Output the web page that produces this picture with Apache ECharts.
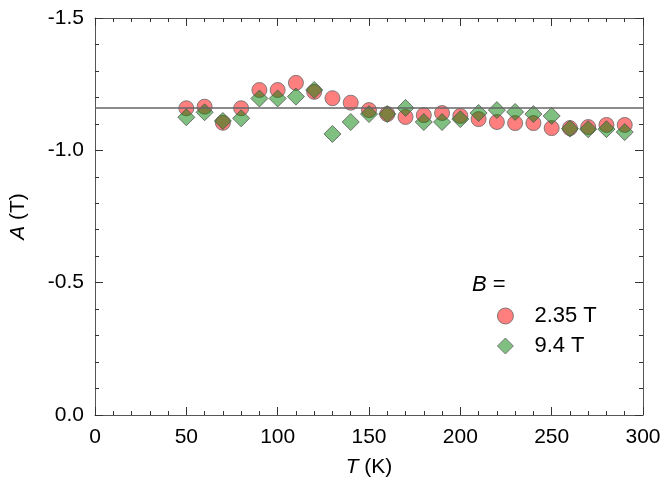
<!DOCTYPE html>
<html>
<head>
<meta charset="utf-8">
<script src="https://cdn.jsdelivr.net/npm/echarts@6/dist/echarts.min.js"></script>
<style>
  html, body { margin: 0; padding: 0; background: #fff; }
  #chart { width: 667px; height: 485px; }
</style>
</head>
<body>
<div id="chart"></div>
<script>
// temperatures (K)
const temps = [50, 60, 70, 80, 90, 100, 110, 120, 130, 140, 150, 160, 170, 180, 190, 200, 210, 220, 230, 240, 250, 260, 270, 280, 290];
// A (T) at B = 2.35 T
const a235 = [-1.159, -1.165, -1.104, -1.159, -1.228, -1.228, -1.255, -1.221, -1.197, -1.180, -1.152, -1.137, -1.126, -1.133, -1.141, -1.130, -1.118, -1.107, -1.103, -1.103, -1.084, -1.084, -1.088, -1.096, -1.096];
// A (T) at B = 9.4 T
const a94 = [-1.125, -1.144, -1.111, -1.121, -1.196, -1.196, -1.203, -1.228, -1.062, -1.107, -1.137, -1.137, -1.160, -1.107, -1.107, -1.118, -1.141, -1.152, -1.145, -1.137, -1.130, -1.082, -1.080, -1.080, -1.069];
const refLine = -1.157;

const font = "Liberation Sans, Arial, sans-serif";
const axisColor = "#555";

const chart = echarts.init(document.getElementById("chart"));

function tick() {
  return { show: true, inside: true, length: 8, lineStyle: { color: "#333" } };
}
function minor() {
  return { show: true, splitNumber: 5, length: 4, lineStyle: { color: "#333" } };
}
function line() {
  return { show: true, onZero: false, lineStyle: { color: axisColor, width: 1 } };
}

chart.setOption({
  animation: false,
  textStyle: { fontFamily: font },
  grid: { left: 94, right: 24, top: 18, bottom: 70 },
  legend: {
    orient: "vertical",
    left: 492,
    top: 300,
    itemGap: 8,
    itemWidth: 16,
    itemHeight: 16,
    itemStyle: { borderWidth: 0.8, borderColor: "#666" },
    textStyle: { fontSize: 22, color: "#000", fontFamily: font, padding: [0, 0, 0, 16] },
    data: ["2.35 T", "9.4 T"]
  },
  graphic: [{
    type: "text",
    left: 472,
    top: 274,
    style: {
      text: "{i|B} =",
      rich: { i: { fontStyle: "italic", fontSize: 22, fontFamily: font } },
      fontSize: 22,
      fontFamily: font,
      fill: "#000"
    }
  }],
  xAxis: [{
    type: "value",
    position: "bottom",
    min: 0, max: 300, interval: 50,
    name: "{i|T} (K)",
    nameLocation: "middle",
    nameGap: 42,
    nameTextStyle: { fontSize: 21, color: "#000", rich: { i: { fontStyle: "italic", fontSize: 21 } } },
    axisLine: line(),
    axisTick: tick(),
    minorTick: minor(),
    axisLabel: { fontSize: 21, color: "#000", margin: 12 },
    splitLine: { show: false }
  }, {
    type: "value",
    position: "top",
    min: 0, max: 300, interval: 50,
    axisLine: line(),
    axisTick: tick(),
    minorTick: minor(),
    axisLabel: { show: false },
    splitLine: { show: false }
  }],
  yAxis: [{
    type: "value",
    position: "left",
    inverse: true,
    min: -1.5, max: 0, interval: 0.5,
    name: "{i|A} (T)",
    nameLocation: "middle",
    nameGap: 66,
    nameTextStyle: { fontSize: 21, color: "#000", rich: { i: { fontStyle: "italic", fontSize: 21 } } },
    axisLine: line(),
    axisTick: tick(),
    minorTick: minor(),
    axisLabel: { fontSize: 21, color: "#000", margin: 11, formatter: v => v.toFixed(1) },
    splitLine: { show: false }
  }, {
    type: "value",
    inverse: true,
    position: "right",
    min: -1.5, max: 0, interval: 0.5,
    axisLine: line(),
    axisTick: tick(),
    minorTick: minor(),
    axisLabel: { show: false },
    splitLine: { show: false }
  }],
  series: [
    {
      name: "2.35 T",
      type: "scatter",
      symbol: "circle",
      symbolSize: 15,
      data: temps.map((t, i) => [t, a235[i]]),
      itemStyle: { color: "rgba(255,0,0,0.5)", borderColor: "#666", borderWidth: 0.8, opacity: 1 },
      markLine: {
        silent: true,
        symbol: "none",
        label: { show: false },
        lineStyle: { color: "#666", width: 1.5, type: "solid" },
        data: [{ yAxis: refLine }]
      }
    },
    {
      name: "9.4 T",
      type: "scatter",
      symbol: "diamond",
      symbolSize: 17,
      data: temps.map((t, i) => [t, a94[i]]),
      itemStyle: { color: "rgba(0,128,0,0.5)", borderColor: "#555", borderWidth: 0.8, opacity: 1 }
    }
  ]
});
</script>
</body>
</html>
